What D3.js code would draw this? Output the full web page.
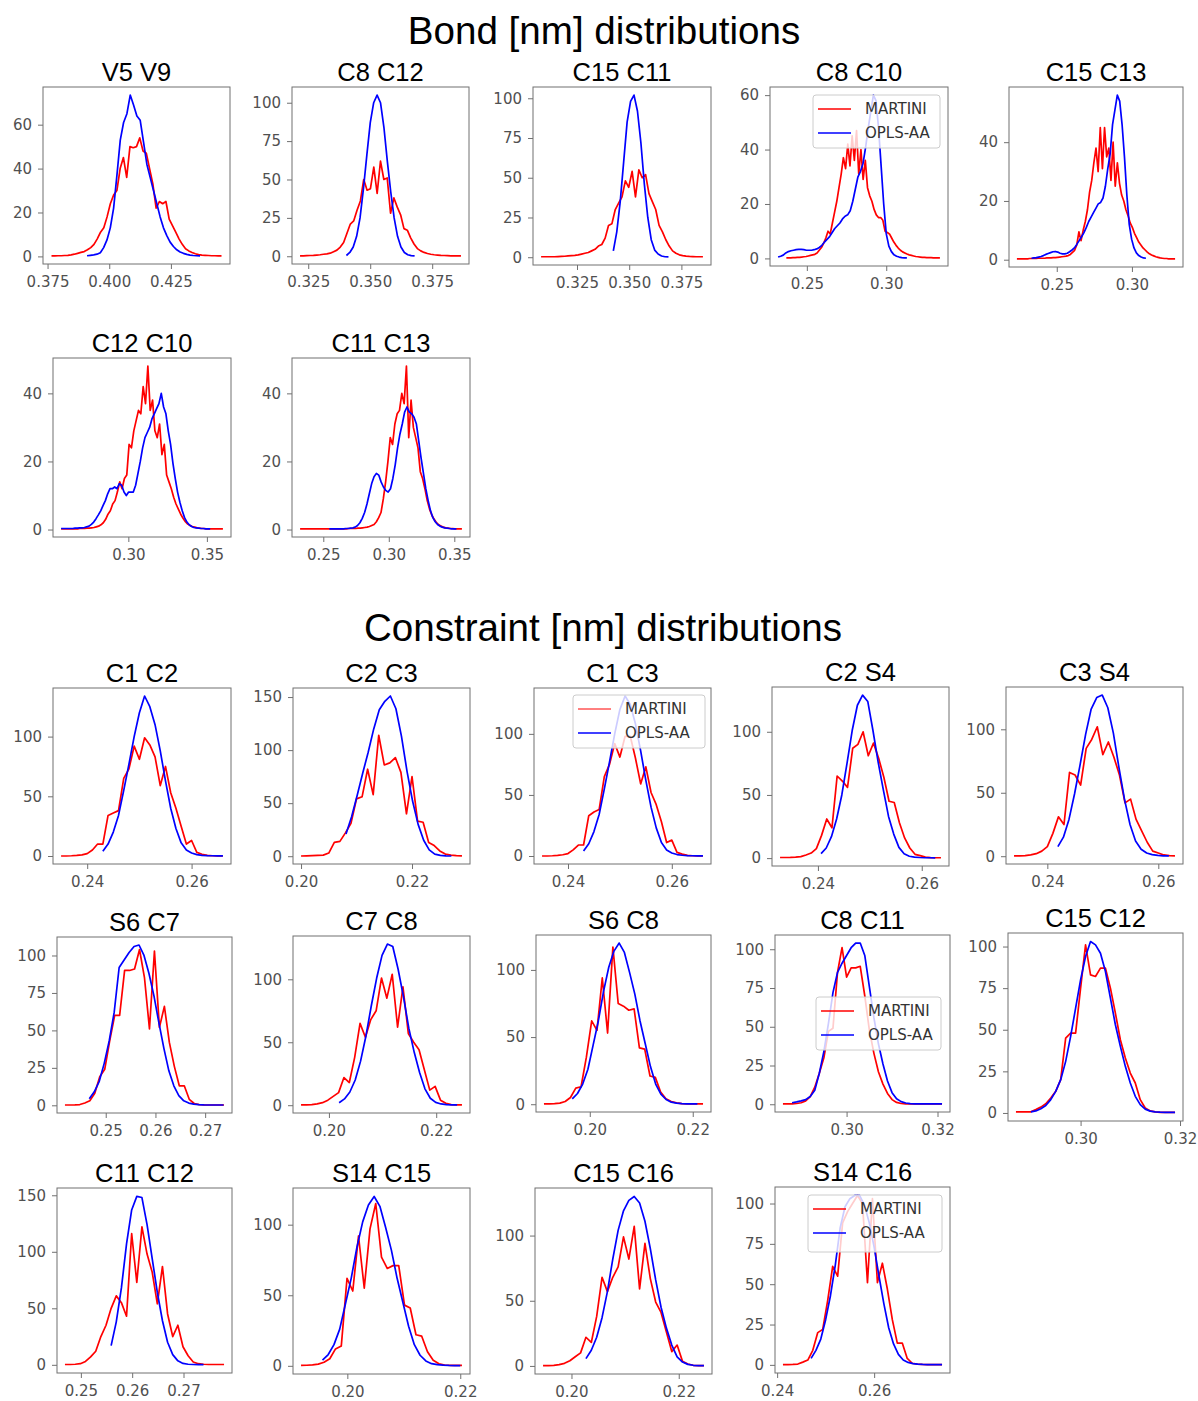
<!DOCTYPE html>
<html>
<head>
<meta charset="utf-8">
<script src="https://cdn.jsdelivr.net/npm/d3@7"></script>
<style>
  body { margin: 0; background: #fff; }
  svg { display: block; }
</style>
</head>
<body>
<svg id="fig" width="1198" height="1401"></svg>
<script>
// ---------------------------------------------------------------------------
// Histogram heights per atom pair. Each series is paired with the [first, last]
// bin centre (nm); bins are evenly spaced between them.
// ---------------------------------------------------------------------------

// ---- Bonds ----
const v5v9MartiniBins = [0.3766, 0.4455];
const v5v9Martini = [0.2,0.2,0.3,0.3,0.4,0.5,0.7,1.0,1.4,1.8,2.2,3,4,5.5,8,11,13,18,24,28,30,40,45,36,50,49.5,50,54,48,47,40,33,22,25,24,25,17,14,11,8,5.5,3.5,2.5,1.8,1.2,0.8,0.6,0.5,0.4,0.3,0.3,0.2,0.2];
const v5v9OplsBins = [0.3910, 0.4368];
const v5v9Opls = [0.3,0.5,0.7,1.0,1.7,4,7.5,13,22,37,53,61,65,73.5,69,64,62,52,42,36,30,24,18,13,9.5,6.5,4.5,3,2,1.4,0.9,0.6,0.4,0.3,0.2];

const c8c12MartiniBins = [0.3217, 0.3866];
const c8c12Martini = [0.3,0.3,0.4,0.5,0.6,0.8,1.0,1.3,1.6,2,3,4,6,9,15,21,23,30,36,50,43,44,58,41,62,50,51,28,38,32,27,18,17,12,8,5,3.5,2.5,1.8,1.3,1,0.8,0.6,0.5,0.4,0.3,0.3,0.3,0.3];
const c8c12OplsBins = [0.3404, 0.3679];
const c8c12Opls = [0.5,2.5,6,13,25,44,66,87,100,105,100,84,62,42,25,13,6,2.5,1,0.4,0.2];

const c15c11MartiniBins = [0.3078, 0.3853];
const c15c11Martini = [0.3,0.3,0.3,0.3,0.3,0.4,0.5,0.6,0.8,1.0,1.2,1.5,2,2.5,3,4,5,7,8,12,20,21,30,34,38,48,44,54,38,55,50,52,40,35,30,20,16,11,7,4,2.5,1.5,1,0.7,0.5,0.4,0.3,0.3,0.3];
const c15c11OplsBins = [0.3424, 0.3688];
const c15c11Opls = [4,16,35,60,85,98,102,92,72,46,25,11,4.5,2,0.8,0.3,0.2];

const c8c10MartiniBins = [0.2371, 0.3338];
const c8c10Martini = [0.2,0.2,0.2,0.3,0.3,0.4,0.4,0.5,0.6,0.7,0.9,1.1,1.3,1.5,2,3,4,5.5,7.5,10,9,13,17,21,26,31,37,33,42,34,45,36,47,31,40,29,36,26,23,21,18,16,15,15,14,10,9.5,9,7.5,6,4.8,3.8,3,2.4,2,1.6,1.3,1.1,0.9,0.7,0.6,0.5,0.4,0.4,0.3,0.3,0.3,0.2,0.2,0.2,0.2];
const c8c10OplsBins = [0.2319, 0.3130];
const c8c10Opls = [0.5,0.8,1.2,2,2.5,2.8,3.0,3.2,3.3,3.3,3.2,3.0,3.0,3.0,3.2,3.5,4,4.8,6,7,8,9.5,11,12,13,14.5,15.5,16,17.5,21,25.5,30,32,35,41,48,54,60,58,48,34,20,9,4.5,2.5,1.3,0.8,0.5,0.3,0.2,0.2];

const c15c13MartiniBins = [0.2235, 0.3287];
const c15c13Martini = [0.3,0.3,0.3,0.3,0.3,0.3,0.4,0.4,0.4,0.4,0.5,0.5,0.5,0.5,0.6,0.6,0.6,0.7,0.7,0.8,0.9,1.0,1.1,1.2,1.4,1.8,2.5,3.2,5,9.5,6.5,10,13,17,23,27,33,38,30,45,31,45,35,38,27,40,25,33,26,22,20,17,15,12.5,11,9,7.5,6,5,4,3.3,2.6,2,1.6,1.3,1,0.8,0.6,0.5,0.4,0.4,0.3,0.3,0.3,0.3];
const c15c13OplsBins = [0.2332, 0.3093];
const c15c13Opls = [0.5,0.6,0.7,0.9,1.1,1.4,1.8,2.1,2.4,2.7,2.8,2.6,2.2,2.0,2.0,2.2,2.7,3.3,4,5.2,6.5,7.8,9.2,11,13,14.5,16,17.5,19,19.5,21,25,31,36,46,51,56,54,46,35,22,12,7,4,2.3,1.4,0.9,0.6,0.5];

const c12c10MartiniBins = [0.2572, 0.3602];
const c12c10Martini = [0.2,0.2,0.2,0.2,0.2,0.2,0.2,0.2,0.3,0.3,0.3,0.4,0.4,0.5,0.6,0.8,1.0,1.4,2,3,4.5,5.5,7.5,8.5,11,14,12,15,16,25,24,29,32,35,34,42,37,48,35,38,29,27,31,22,25,16,14,12,9.5,7.5,6,4.5,3.3,2.3,1.6,1.2,0.9,0.7,0.5,0.4,0.3,0.3,0.2,0.2,0.2,0.2,0.2,0.2,0.2,0.2];
const c12c10OplsBins = [0.2572, 0.3521];
const c12c10Opls = [0.3,0.3,0.3,0.3,0.3,0.3,0.4,0.4,0.5,0.5,0.6,0.8,1.0,1.5,2.2,3.2,4.3,5.5,7,8.5,10.5,12,12,12.5,12,13.5,13,11,10,11,11,11,13,16.5,20,24,27,28.5,30,32.5,34,35.5,37,40,36,34,29,25,19.5,15,11,8,5.5,3.5,2.2,1.4,0.9,0.6,0.5,0.4,0.3,0.3,0.2,0.2,0.2];

const c11c13MartiniBins = [0.2323, 0.3558];
const c11c13Martini = [0.2,0.2,0.2,0.2,0.2,0.2,0.2,0.2,0.2,0.2,0.2,0.2,0.2,0.2,0.2,0.2,0.2,0.2,0.2,0.2,0.2,0.3,0.3,0.3,0.3,0.4,0.4,0.5,0.6,0.7,0.9,1.2,1.5,2.3,3.5,5,9,14,20,27,25,31,34,35,40,37,48,27,38,30,27,24,17,15,12,8.5,6,4.2,3,2,1.4,1,0.7,0.5,0.4,0.3,0.3,0.2,0.2,0.2,0.2];
const c11c13OplsBins = [0.2546, 0.3516];
const c11c13Opls = [0.2,0.2,0.2,0.2,0.2,0.2,0.2,0.3,0.3,0.4,0.5,0.7,1.2,2,3.3,5,7.5,10.5,13.5,15.5,16.5,16,14,12.5,11.5,11,12,15,19,24,28,31,34.5,36,34.5,34,33,31,26,21,16.5,12,8.5,5.5,3.5,2.3,1.5,1,0.7,0.5,0.4,0.3,0.2,0.2,0.2];

// ---- Constraints ----
const c1c2MartiniBins = [0.235, 0.266];
const c1c2Martini = [0,0,0.2,0.5,1,2,5,10,10,34,36,38,65,73,92,81,99,93,83,59,75,53,40,25,10,13,3,1.5,0.5,0.2,0.1,0];
const c1c2OplsBins = [0.243, 0.266];
const c1c2Opls = [4,10,20,34,55,77,100,120,134,125,110,88,63,40,23,11,5,2.5,1.2,0.6,0.3,0.2,0.1,0.1];

const c2c3MartiniBins = [0.200, 0.229];
const c2c3Martini = [0.2,0.3,0.5,0.8,1,3,13,14,22,31,54,56,82,58,114,86,88,93,79,40,75,33,32,13,10,5,2,1,0.5,0.3];
const c2c3OplsBins = [0.2081, 0.2271];
const c2c3Opls = [21,37,57,78,98,120,138,146,151,139,113,80,52,30,15,6,2,0.8,0.4,0.2];

const c1c3MartiniBins = [0.235, 0.266];
const c1c3Martini = [0,0,0.2,0.5,1,2,5,9,9,33,36,38,65,75,92,81,98,98,80,59,73,52,42,28,11,13,3,1.5,0.5,0.2,0.1,0];
const c1c3OplsBins = [0.243, 0.266];
const c1c3Opls = [4,10,20,34,55,77,100,120,131,124,108,86,62,40,23,11,5,2.5,1.2,0.6,0.3,0.2,0.1,0.1];

const c2s4MartiniBins = [0.2327, 0.2637];
const c2s4Martini = [0.5,0.5,0.6,0.8,1.2,2.5,4,7.5,18,31,24,65,61,56,87,90,100,81,91,79,64,45,44,28,16,8,3,2,0.8,0.4,0.3,0.3];
const c2s4OplsBins = [0.2406, 0.2626];
const c2s4Opls = [3.5,8,17,31,50,75,101,121,129,124,101,76,54,33,19,8.5,3.5,1.5,0.8,0.5,0.3,0.3,0.2];

const c3s4MartiniBins = [0.234, 0.263];
const c3s4Martini = [0.3,0.3,0.5,1,2,4,7.5,18,31,25,66,64,56,85,92,102,80,90,78,64,42,45,29,20,11,4,2.5,1,0.5,0.3];
const c3s4OplsBins = [0.2419, 0.2619];
const c3s4Opls = [7.5,15,29,49,72,96,116,125,127,117,97,70,45,25,12,5.5,2.5,1.2,0.6,0.3,0.2];

const s6c7MartiniBins = [0.2418, 0.2738];
const s6c7Martini = [0.2,0.2,0.3,0.5,1.5,3,8,19,24,43,60,60,90,90,91,104,85,51,103,52,66,42,26,13,13,4,1.2,0.5,0.3,0.2,0.2,0.2,0.2];
const s6c7OplsBins = [0.2467, 0.2737];
const s6c7Opls = [4.4,9,16,28,43,62,92,97,102,106,107,100,88,73,55,38,23,13,6.5,3,1.5,0.8,0.5,0.3,0.2,0.2,0.2,0.2];

const c7c8MartiniBins = [0.1948, 0.2248];
const c7c8Martini = [0.2,0.3,0.5,1,2,4,7,10,22,18,38,65,54,68,75,101,85,104,62,94,57,50,44,28,12,15,4,1.5,0.5,0.3,0.2];
const c7c8OplsBins = [0.2019, 0.2239];
const c7c8Opls = [2,5,10.5,20,35,55,79,101,119,128,126,108,86,61,42,26,13,5.5,2.2,1,0.5,0.3,0.2];

const s6c8MartiniBins = [0.1911, 0.2220];
const s6c8Martini = [0.2,0.3,0.5,0.8,2,5,12,13,35,62,55,94,53,117,75,73,70,71,42,41,21,20,9,4,2,1,0.5,0.3,0.2,0.2,0.2];
const s6c8OplsBins = [0.1966, 0.2209];
const s6c8Opls = [4,8,15,26,44,62,84,102,114,120,113,98,82,62,45,28,15,7.5,3.5,1.5,0.8,0.5,0.3,0.2,0.2];

const c8c11MartiniBins = [0.286, 0.321];
const c8c11Martini = [0.2,0.2,0.3,0.5,1,2.2,5,11,20,30,47,49,85,101,82,88,88,89,70,48,33,21,13,7,3,1.2,0.5,0.3,0.2,0.2,0.2,0.2,0.2,0.2,0.2,0.2];
const c8c11OplsBins = [0.288, 0.321];
const c8c11Opls = [1,1.5,2.2,3,5,9,20,34,52,72,85,91,96,101,104,104,96,76,56,39,26,15,7.5,3.5,1.7,0.8,0.4,0.3,0.2,0.2,0.2,0.2,0.2,0.2];

const c15c12MartiniBins = [0.2870, 0.3190];
const c15c12Martini = [0.6,0.6,0.6,0.7,2,3.5,5.5,9,13,20,45,48,48,75,101,83,82,87,87,75,60,44,33,24,18,8,3,1.2,0.6,0.4,0.3,0.3,0.3];
const c15c12OplsBins = [0.2900, 0.3190];
const c15c12Opls = [0.6,1.2,2.5,4.5,8,13,20,31,46,63,80,94,103,101,96,85,69,53,40,28,18,10,5,2.3,1.1,0.7,0.5,0.4,0.4,0.4];

const c11c12MartiniBins = [0.2469, 0.2779];
const c11c12Martini = [0.3,0.3,0.5,1,3,7,12,25,35,50,61,55,43,116,73,122,98,82,54,87,45,25,35,16,8,2.5,1,0.5,0.3,0.3,0.3,0.3];
const c11c12OplsBins = [0.2559, 0.2739];
const c11c12Opls = [17,38,68,107,137,149,148,124,94,64,39,20,9,3.5,1.2,0.5,0.3,0.2,0.2];

const s14c15MartiniBins = [0.1918, 0.2203];
const s14c15Martini = [0.3,0.4,0.7,1.2,2.5,5,12,14,62,53,92,55,97,115,77,69,71,71,43,41,22,21,10,4,1.5,0.6,0.3,0.3,0.3];
const s14c15OplsBins = [0.1956, 0.2200];
const s14c15Opls = [4,8,15,26,44,62,84,102,114,120,113,98,82,62,45,28,15,7.5,3.5,1.5,0.8,0.5,0.3,0.2,0.2];

const c15c16MartiniBins = [0.1947, 0.2247];
const c15c16Martini = [0.3,0.3,0.5,1,2,4,7,10,22,18,38,68,57,68,76,99,82,107,59,94,67,49,41,26,11,16,3.5,1.5,0.5,0.3,0.3];
const c15c16OplsBins = [0.2027, 0.2247];
const c15c16Opls = [5.6,12,22,37,57,82,104,119,127,130,125,111,90,66,45,29,16,7,3,1.2,0.5,0.3,0.3];

const s14c16MartiniBins = [0.2412, 0.2740];
const s14c16Martini = [0.2,0.2,0.3,0.5,1.7,3,9,20,22,40,61,55,88,95,100,105,100,51,103,51,63,47,28,13.5,13.5,4,1,0.5,0.3,0.2,0.2,0.2,0.2];
const s14c16OplsBins = [0.2470, 0.2740];
const s14c16Opls = [4,9,16,28,43,62,85,98,103,105,105,99,88,73,55,38,23,13,6.5,3,1.5,0.8,0.5,0.3,0.2,0.2,0.2,0.2];

// Panel titles, in drawing order
const pairNames = ["V5 V9","C8 C12","C15 C11","C8 C10","C15 C13","C12 C10","C11 C13",
  "C1 C2","C2 C3","C1 C3","C2 S4","C3 S4","S6 C7","C7 C8","S6 C8","C8 C11","C15 C12",
  "C11 C12","S14 C15","C15 C16","S14 C16"];

const martiniSeries = [
  [v5v9MartiniBins, v5v9Martini],[c8c12MartiniBins, c8c12Martini],[c15c11MartiniBins, c15c11Martini],
  [c8c10MartiniBins, c8c10Martini],[c15c13MartiniBins, c15c13Martini],[c12c10MartiniBins, c12c10Martini],
  [c11c13MartiniBins, c11c13Martini],[c1c2MartiniBins, c1c2Martini],[c2c3MartiniBins, c2c3Martini],
  [c1c3MartiniBins, c1c3Martini],[c2s4MartiniBins, c2s4Martini],[c3s4MartiniBins, c3s4Martini],
  [s6c7MartiniBins, s6c7Martini],[c7c8MartiniBins, c7c8Martini],[s6c8MartiniBins, s6c8Martini],
  [c8c11MartiniBins, c8c11Martini],[c15c12MartiniBins, c15c12Martini],[c11c12MartiniBins, c11c12Martini],
  [s14c15MartiniBins, s14c15Martini],[c15c16MartiniBins, c15c16Martini],[s14c16MartiniBins, s14c16Martini]];

const oplsSeries = [
  [v5v9OplsBins, v5v9Opls],[c8c12OplsBins, c8c12Opls],[c15c11OplsBins, c15c11Opls],
  [c8c10OplsBins, c8c10Opls],[c15c13OplsBins, c15c13Opls],[c12c10OplsBins, c12c10Opls],
  [c11c13OplsBins, c11c13Opls],[c1c2OplsBins, c1c2Opls],[c2c3OplsBins, c2c3Opls],
  [c1c3OplsBins, c1c3Opls],[c2s4OplsBins, c2s4Opls],[c3s4OplsBins, c3s4Opls],
  [s6c7OplsBins, s6c7Opls],[c7c8OplsBins, c7c8Opls],[s6c8OplsBins, s6c8Opls],
  [c8c11OplsBins, c8c11Opls],[c15c12OplsBins, c15c12Opls],[c11c12OplsBins, c11c12Opls],
  [s14c15OplsBins, s14c15Opls],[c15c16OplsBins, c15c16Opls],[s14c16OplsBins, s14c16Opls]];

// Tick values per panel
const xTickValues = [
  [0.375,0.400,0.425],[0.325,0.350,0.375],[0.325,0.350,0.375],[0.25,0.30],[0.25,0.30],
  [0.30,0.35],[0.25,0.30,0.35],
  [0.24,0.26],[0.20,0.22],[0.24,0.26],[0.24,0.26],[0.24,0.26],
  [0.25,0.26,0.27],[0.20,0.22],[0.20,0.22],[0.30,0.32],[0.30,0.32],
  [0.25,0.26,0.27],[0.20,0.22],[0.20,0.22],[0.24,0.26]];
const xTickFormats = [".3f",".3f",".3f",".2f",".2f",".2f",".2f",
  ".2f",".2f",".2f",".2f",".2f",".2f",".2f",".2f",".2f",".2f",".2f",".2f",".2f",".2f"];
const yTickValues = [
  [0,20,40,60],[0,25,50,75,100],[0,25,50,75,100],[0,20,40,60],[0,20,40],
  [0,20,40],[0,20,40],
  [0,50,100],[0,50,100,150],[0,50,100],[0,50,100],[0,50,100],
  [0,25,50,75,100],[0,50,100],[0,50,100],[0,25,50,75,100],[0,25,50,75,100],
  [0,50,100,150],[0,50,100],[0,50,100],[0,25,50,75,100]];

const seriesNames = ["MARTINI", "OPLS-AA"];
const seriesColors = ["#ff0000", "#0000ff"];

// ---------------------------------------------------------------------------
// Layout: axes frames [left, top, right, bottom] and legend boxes
// ---------------------------------------------------------------------------
const frames = [
  [43,87,230,264],[292,87,469,264],[533,87,711,265],[770,87,948,266],[1009,87,1183,267],
  [53,358,231,537],[292,358,470,537],
  [53,688,231,864],[293,688,470,864],[534,688,711,864],[772,687,949,866],[1006,687,1183,864],
  [57,937,232,1113],[293,936,470,1113],[536,935,711,1112],[775,935,950,1112],[1008,933,1183,1121],
  [57,1188,232,1373],[293,1188,470,1374],[535,1188,712,1374],[775,1187,950,1373]];

const legends = [
  {panel: 3,  box: [813, 95, 940, 148], redWidth: 1.6},
  {panel: 9,  box: [573, 695, 705, 748], redWidth: 1},
  {panel: 15, box: [816, 997, 941, 1050], redWidth: 1.6},
  {panel: 20, box: [808, 1195, 942, 1252], redWidth: 1.6}];

const TITLE_FONT = "'Liberation Sans', Arial, Helvetica, sans-serif";
const TICK_FONT = "'DejaVu Sans', 'Bitstream Vera Sans', sans-serif";
const AXIS_GRAY = "#707070";
const LABEL_GRAY = "#505050";

const svg = d3.select("#fig");

// Section headings
svg.append("text")
  .attr("x", 604).attr("y", 44)
  .attr("text-anchor", "middle")
  .attr("font-family", TITLE_FONT).attr("font-size", 38.6)
  .attr("fill", "#000")
  .text("Bond [nm] distributions");
svg.append("text")
  .attr("x", 603).attr("y", 641)
  .attr("text-anchor", "middle")
  .attr("font-family", TITLE_FONT).attr("font-size", 38.6)
  .attr("fill", "#000")
  .text("Constraint [nm] distributions");

// Turn a [first, last] bin range plus heights into [x, y] points
function toPoints(bins, heights) {
  const n = heights.length;
  const step = (bins[1] - bins[0]) / (n - 1);
  return heights.map((h, i) => [bins[0] + i * step, h]);
}

pairNames.forEach((name, i) => {
  const [l, t, r, b] = frames[i];
  const red = toPoints(martiniSeries[i][0], martiniSeries[i][1]);
  const blue = toPoints(oplsSeries[i][0], oplsSeries[i][1]);
  const all = red.concat(blue);

  // 5% margins around the data, like matplotlib's autoscaling
  const xe = d3.extent(all, d => d[0]);
  const ye = d3.extent(all, d => d[1]);
  const xm = (xe[1] - xe[0]) * 0.05, ym = (ye[1] - ye[0]) * 0.05;
  const x = d3.scaleLinear().domain([xe[0] - xm, xe[1] + xm]).range([l, r]);
  const y = d3.scaleLinear().domain([ye[0] - ym, ye[1] + ym]).range([b, t]);

  const g = svg.append("g").attr("class", "panel");

  const line = d3.line().x(d => x(d[0])).y(d => y(d[1]));
  [red, blue].forEach((pts, k) => {
    g.append("path")
      .datum(pts)
      .attr("d", line)
      .attr("fill", "none")
      .attr("stroke", seriesColors[k])
      .attr("stroke-width", 1.7)
      .attr("stroke-linejoin", "round")
      .attr("stroke-linecap", "butt");
  });

  // Axes
  const xAxis = d3.axisBottom(x)
    .tickValues(xTickValues[i])
    .tickFormat(d3.format(xTickFormats[i]))
    .tickSizeInner(5).tickSizeOuter(0).tickPadding(7);
  const yAxis = d3.axisLeft(y)
    .tickValues(yTickValues[i])
    .tickFormat(d3.format("d"))
    .tickSizeInner(5).tickSizeOuter(0).tickPadding(6);

  const gx = g.append("g").attr("transform", `translate(0,${b})`).call(xAxis);
  const gy = g.append("g").attr("transform", `translate(${l},0)`).call(yAxis);
  [gx, gy].forEach(ax => {
    ax.select(".domain").remove();
    ax.selectAll(".tick line").attr("stroke", AXIS_GRAY).attr("stroke-width", 1);
    ax.selectAll(".tick text")
      .attr("fill", LABEL_GRAY)
      .attr("font-family", TICK_FONT)
      .attr("font-size", 15);
  });

  // Frame
  g.append("rect")
    .attr("x", l).attr("y", t)
    .attr("width", r - l).attr("height", b - t)
    .attr("fill", "none")
    .attr("stroke", AXIS_GRAY)
    .attr("stroke-width", 1);

  // Panel title
  g.append("text")
    .attr("x", (l + r) / 2).attr("y", t - 6)
    .attr("text-anchor", "middle")
    .attr("font-family", TITLE_FONT)
    .attr("font-size", 25.5)
    .attr("fill", "#000")
    .text(name);
});

// Legends
legends.forEach(lg => {
  const [l, t, r, b] = lg.box;
  const g = svg.append("g").attr("class", "legend");
  g.append("rect")
    .attr("x", l).attr("y", t)
    .attr("width", r - l).attr("height", b - t)
    .attr("rx", 3).attr("ry", 3)
    .attr("fill", "#ffffff").attr("fill-opacity", 0.8)
    .attr("stroke", "#cccccc").attr("stroke-width", 1);
  seriesNames.forEach((label, k) => {
    const cy = t + 14 + k * 24;
    g.append("line")
      .attr("x1", l + 5).attr("x2", l + 38)
      .attr("y1", cy).attr("y2", cy)
      .attr("stroke", seriesColors[k])
      .attr("stroke-width", k === 0 ? lg.redWidth : 1.7);
    g.append("text")
      .attr("x", l + 52).attr("y", cy)
      .attr("dy", "0.35em")
      .attr("font-family", TICK_FONT)
      .attr("font-size", 15)
      .attr("fill", "#333")
      .text(label);
  });
});
</script>
</body>
</html>
